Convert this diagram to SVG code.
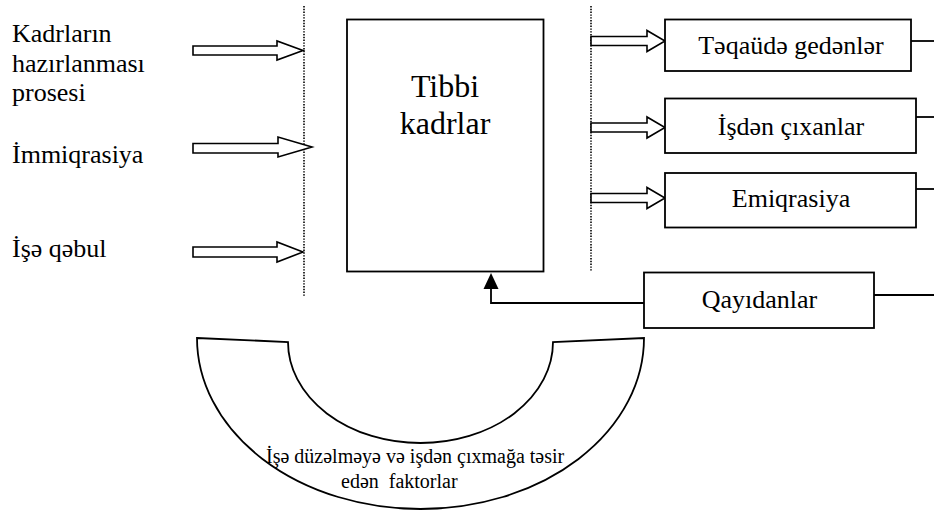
<svg xmlns="http://www.w3.org/2000/svg" width="934" height="511" viewBox="0 0 934 511">
<style>
  .box { fill: #fff; stroke: #000; stroke-width: 1.8; }
  .blk { fill: #fff; stroke: #000; stroke-width: 1.6; stroke-linejoin: miter; }
  .line { fill: none; stroke: #000; stroke-width: 1.8; }
  .dot { fill: none; stroke: #000; stroke-width: 1.6; stroke-dasharray: 1.4 1.4; }
</style>
<rect width="934" height="511" fill="#fff"/>

<g id="connectors">
  <line class="dot" x1="304" y1="6" x2="304" y2="296"/>
  <line class="dot" x1="591" y1="6" x2="591" y2="272"/>
  <path class="blk" d="M193,46 H277 V41 L303,50.5 L277,60 V55 H193 Z"/>
  <path class="blk" d="M193,143.5 H278 V137 L312,147 L278,157 V153 H193 Z"/>
  <path class="blk" d="M193,247 H277 V242 L303,252 L277,262 V257 H193 Z"/>
  <path class="blk" d="M591,36.5 H647 V30.5 L665,41 L647,51.5 V45.5 H591 Z"/>
  <path class="blk" d="M591,123 H647 V117 L665,127.5 L647,138 V132 H591 Z"/>
  <path class="blk" d="M591,193.5 H647 V187.5 L665,198 L647,208.5 V202.5 H591 Z"/>
  <line class="line" x1="911" y1="41" x2="934" y2="41"/>
  <line class="line" x1="916" y1="117" x2="934" y2="117"/>
  <line class="line" x1="916" y1="189" x2="934" y2="189"/>
  <line class="line" x1="874" y1="295" x2="934" y2="295"/>
  <path class="line" d="M644,303 H491 V289"/>
  <path d="M491,273 L498.5,289 L483.5,289 Z" fill="#000"/>
</g>

<g id="inputs">
  <text style="font-family:'Liberation Serif',serif;font-size:26px" x="12" y="42">Kadrların</text>
  <text style="font-family:'Liberation Serif',serif;font-size:26px" x="12" y="72">hazırlanması</text>
  <text style="font-family:'Liberation Serif',serif;font-size:26px" x="12" y="101">prosesi</text>
  <text style="font-family:'Liberation Serif',serif;font-size:26px" x="12" y="163">İmmiqrasiya</text>
  <text style="font-family:'Liberation Serif',serif;font-size:26px" x="12" y="257">İşə qəbul</text>
</g>

<g id="tibbi-kadrlar">
  <rect class="box" x="347" y="19.5" width="196.5" height="252"/>
  <text style="font-family:'Liberation Serif',serif;font-size:32px;text-anchor:middle" x="445" y="97">Tibbi</text>
  <text style="font-family:'Liberation Serif',serif;font-size:32px;text-anchor:middle" x="445" y="134">kadrlar</text>
</g>

<g id="teqaude">
  <rect class="box" x="665" y="19.5" width="246" height="51.5"/>
  <text style="font-family:'Liberation Serif',serif;font-size:26px;text-anchor:middle" x="791" y="54">Təqaüdə gedənlər</text>
</g>

<g id="isden">
  <rect class="box" x="665" y="98.5" width="251" height="54.5"/>
  <text style="font-family:'Liberation Serif',serif;font-size:26px;text-anchor:middle" x="791" y="135">İşdən çıxanlar</text>
</g>

<g id="emiqrasiya">
  <rect class="box" x="665" y="173" width="251" height="54.5"/>
  <text style="font-family:'Liberation Serif',serif;font-size:26px;text-anchor:middle" x="791" y="207">Emiqrasiya</text>
</g>

<g id="qayidanlar">
  <rect class="box" x="644" y="272.5" width="230" height="55.5"/>
  <text style="font-family:'Liberation Serif',serif;font-size:26px;text-anchor:middle" x="759.5" y="308">Qayıdanlar</text>
</g>

<g id="faktorlar">
  <path class="box" d="M197,338 L288,342 A132.5,101 0 0 0 553,342 L644,338 A223.5,171 0 0 1 197,338 Z"/>
  <text style="font-family:'Liberation Serif',serif;font-size:20px" x="266" y="463">İşə düzəlməyə və işdən çıxmağa təsir</text>
  <text style="font-family:'Liberation Serif',serif;font-size:20px" x="341" y="488" xml:space="preserve">edən  faktorlar</text>
</g>
</svg>
